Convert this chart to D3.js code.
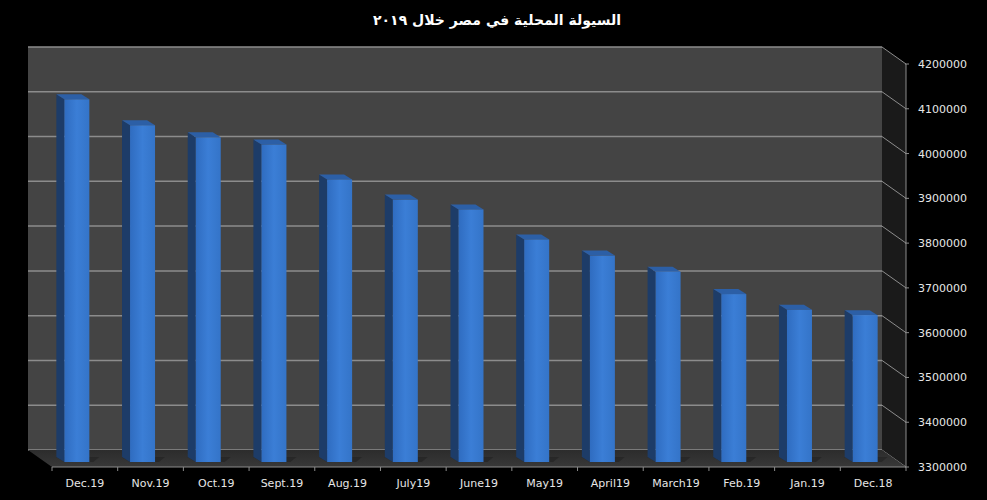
<!DOCTYPE html>
<html>
<head>
<meta charset="utf-8">
<script src="https://cdn.jsdelivr.net/npm/d3@7"></script>
<style>
  body { margin: 0; background: #000; }
  svg { display: block; }
</style>
</head>
<body>
<svg id="chart" width="987" height="500"></svg>
<script>
// categories, left to right as drawn
var months = ["Dec.19", "Nov.19", "Oct.19", "Sept.19", "Aug.19", "July19", "June19",
              "May19", "April19", "March19", "Feb.19", "Jan.19", "Dec.18"];
// domestic liquidity
var liquidity = [4110000, 4052000, 4025000, 4009000, 3931000, 3886000, 3864000,
                 3797000, 3761000, 3725000, 3675000, 3640000, 3628000];
var yTicks = [3300000, 3400000, 3500000, 3600000, 3700000, 3800000, 3900000,
              4000000, 4100000, 4200000];
var titleText = "السيولة المحلية في مصر خلال ٢٠١٩";

// front plane of the 3d box, back wall is pushed up/left by the depth
var plotLeft = 52, plotRight = 906, plotTop = 64, plotBottom = 467;
var depthX = 24, depthY = 17;
// the bars stand a bit behind the front plane
var barShiftX = -8, barShiftY = -5;
var barWidth = 25, sideX = 8, sideY = 5;

var svg = d3.select("#chart");

var x = d3.scaleBand().domain(months).range([plotLeft, plotRight]);
var y = d3.scaleLinear().domain([3300000, 4200000]).range([plotBottom, plotTop]);

var defs = svg.append("defs");
var g1 = defs.append("linearGradient").attr("id", "barFront")
  .attr("x1", 0).attr("x2", 1).attr("y1", 0).attr("y2", 0);
g1.append("stop").attr("offset", "0%").attr("stop-color", "#2f6cc0");
g1.append("stop").attr("offset", "50%").attr("stop-color", "#3b7ed6");
g1.append("stop").attr("offset", "100%").attr("stop-color", "#3474c8");

var g2 = defs.append("linearGradient").attr("id", "floorGrad")
  .attr("x1", 0).attr("x2", 0).attr("y1", 0).attr("y2", 1);
g2.append("stop").attr("offset", "0%").attr("stop-color", "#2c2c2c");
g2.append("stop").attr("offset", "100%").attr("stop-color", "#383838");

var pts = function(arr){
  return arr.map(function(p){ return p[0] + "," + p[1]; }).join(" ");
};

// back wall
svg.append("rect")
  .attr("x", plotLeft - depthX)
  .attr("y", plotTop - depthY)
  .attr("width", plotRight - plotLeft)
  .attr("height", plotBottom - plotTop)
  .attr("fill", "#444444");

// right side wall
svg.append("polygon")
  .attr("points", pts([[plotRight - depthX, plotTop - depthY], [plotRight, plotTop], [plotRight, plotBottom], [plotRight - depthX, plotBottom - depthY]]))
  .attr("fill", "#1a1a1a");

// grid lines on back wall and side wall
yTicks.forEach(function(t){
  var yy = y(t);
  svg.append("line")
    .attr("x1", plotLeft - depthX).attr("x2", plotRight - depthX)
    .attr("y1", yy - depthY).attr("y2", yy - depthY)
    .attr("stroke", "#8c8c8c").attr("stroke-width", 1.5);
  svg.append("line")
    .attr("x1", plotRight - depthX).attr("x2", plotRight)
    .attr("y1", yy - depthY).attr("y2", yy)
    .attr("stroke", "#8c8c8c").attr("stroke-width", 1);
});

// floor
svg.append("polygon")
  .attr("points", pts([[plotLeft - depthX, plotBottom - depthY], [plotRight - depthX, plotBottom - depthY], [plotRight, plotBottom], [plotLeft, plotBottom]]))
  .attr("fill", "url(#floorGrad)");

// bars
var bars = svg.append("g").selectAll("g")
  .data(months)
  .enter().append("g");

bars.each(function(m, i){
  var gBar = d3.select(this);
  var fx = x(m) + x.bandwidth() / 2 + barShiftX - barWidth / 2;
  var ty = y(liquidity[i]) + barShiftY;
  var by = plotBottom + barShiftY;

  // shadow on the floor behind the bar
  gBar.append("polygon")
    .attr("points", pts([[fx - sideX, by - sideY], [fx + barWidth + 10, by - sideY], [fx + barWidth + 4, by], [fx, by]]))
    .attr("fill", "#222").attr("opacity", 0.6);

  gBar.append("polygon")
    .attr("points", pts([[fx, ty], [fx - sideX, ty - sideY], [fx - sideX, by - sideY], [fx, by]]))
    .attr("fill", "#1d3c68");
  gBar.append("polygon")
    .attr("points", pts([[fx, ty], [fx + barWidth, ty], [fx + barWidth - sideX, ty - sideY], [fx - sideX, ty - sideY]]))
    .attr("fill", "#2c5fa6");
  gBar.append("rect")
    .attr("x", fx).attr("y", ty)
    .attr("width", barWidth).attr("height", by - ty)
    .attr("fill", "url(#barFront)");
});

// bottom axis
var xAxis = svg.append("g");
xAxis.append("line")
  .attr("x1", plotLeft).attr("x2", plotRight)
  .attr("y1", plotBottom).attr("y2", plotBottom)
  .attr("stroke", "#8c8c8c").attr("stroke-width", 1);
d3.range(months.length + 1).forEach(function(i){
  var xx = plotLeft + i * x.step();
  xAxis.append("line")
    .attr("x1", xx).attr("x2", xx)
    .attr("y1", plotBottom).attr("y2", plotBottom + 4)
    .attr("stroke", "#8c8c8c");
});
xAxis.selectAll("text")
  .data(months)
  .enter().append("text")
  .attr("x", function(d){ return x(d) + x.bandwidth() / 2; })
  .attr("y", plotBottom + 20)
  .attr("text-anchor", "middle")
  .attr("fill", "#e6e6e6")
  .style("font-family", "DejaVu Sans")
  .style("font-size", "11px")
  .text(function(d){ return d; });

// right axis
var yAxis = svg.append("g");
yAxis.append("line")
  .attr("x1", plotRight).attr("x2", plotRight)
  .attr("y1", plotTop).attr("y2", plotBottom)
  .attr("stroke", "#8c8c8c");
yTicks.forEach(function(t){
  yAxis.append("line")
    .attr("x1", plotRight - 1).attr("x2", plotRight + 3)
    .attr("y1", y(t)).attr("y2", y(t))
    .attr("stroke", "#8c8c8c");
  yAxis.append("text")
    .attr("x", plotRight + 12)
    .attr("y", y(t) + 4)
    .attr("fill", "#e6e6e6")
    .style("font-family", "DejaVu Sans")
    .style("font-size", "11px")
    .text(t);
});

// title
svg.append("text")
  .attr("x", 497)
  .attr("y", 25)
  .attr("text-anchor", "middle")
  .attr("direction", "rtl")
  .attr("fill", "#ffffff")
  .style("font-family", "DejaVu Sans")
  .style("font-weight", "bold")
  .style("font-size", "14px")
  .text(titleText);
</script>
</body>
</html>
